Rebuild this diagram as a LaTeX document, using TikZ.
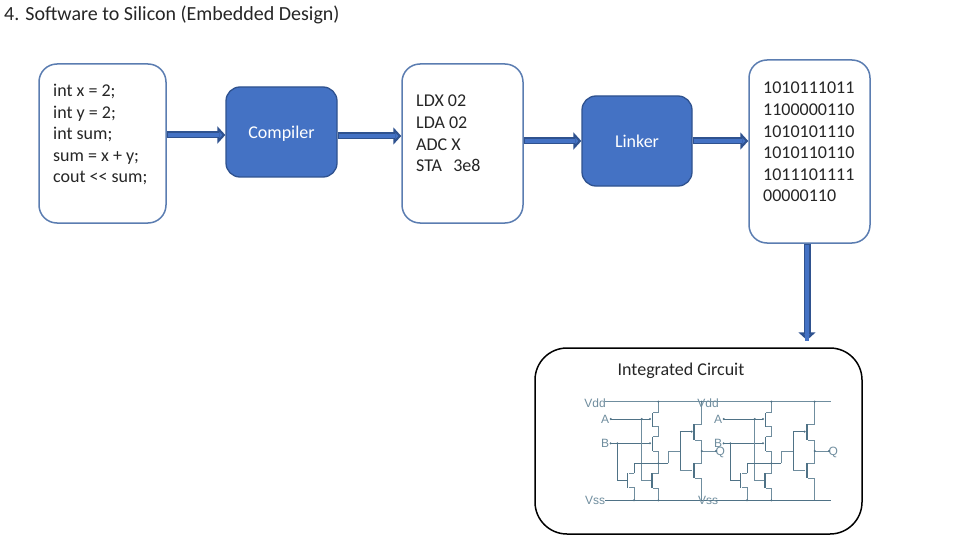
\documentclass[tikz,border=0pt]{standalone}
\usepackage{fontspec}
\setmainfont{Carlito}
\newfontfamily\circfont{Liberation Sans}
\usetikzlibrary{arrows.meta}
\definecolor{edgeblue}{HTML}{2F528F}
\definecolor{boxline}{HTML}{5B7DB1}
\definecolor{fillblue}{HTML}{4472C4}
\definecolor{wire}{HTML}{6F8D9E}
\definecolor{railc}{HTML}{4F7286}
\tikzset{
  whitebox/.style={draw=boxline,line width=1.5pt,fill=white,rounded corners=18pt,inner sep=0pt},
  bluebox/.style={draw=edgeblue,line width=1.3pt,fill=fillblue,rounded corners=14pt,inner sep=0pt,text=white,font=\fontsize{18}{21}\selectfont},
  icbox/.style={draw=black,line width=1.5pt,fill=white,rounded corners=32pt,inner sep=0pt},
  listing/.style={align=left,inner sep=0pt,anchor=north west,text=black!85,font=\fontsize{18}{21.6}\selectfont},
  bigarrow/.style={draw=edgeblue,line width=7pt,-{Triangle[length=8pt,width=17pt,fill=fillblue]},
     postaction={draw=fillblue,line width=4pt,-,shorten >=6pt,shorten <=1pt}},
  wireline/.style={draw=wire,line width=0.7pt},
  railline/.style={draw=railc,line width=0.9pt},
  bar/.style={draw=railc,line width=1.1pt},
  pindot/.style={circle,fill=railc,inner sep=0pt,minimum size=2.2pt},
  circlabel/.style={text=wire,inner sep=0pt,font=\circfont\fontsize{12}{12}\selectfont}
}
\begin{document}
\begin{tikzpicture}[x=1pt,y=-1pt]
\useasboundingbox (0,0) rectangle (960,540);
\fill[white] (0,0) rectangle (960,540);
\node[anchor=base west,inner sep=0pt,text=black!85,font=\fontsize{20}{24}\selectfont] (title) at (4,21) {4. Software to Silicon (Embedded Design)};

\node[whitebox,minimum width=127pt,minimum height=159pt] (src) at (102.5,143.5) {};
\node[bluebox,minimum width=111pt,minimum height=90pt,text height=15pt,text depth=2pt] (comp) at (281.5,132) {Compiler};
\node[whitebox,minimum width=121pt,minimum height=159pt] (asm) at (462.5,143.5) {};
\node[bluebox,minimum width=110pt,minimum height=90pt] (link) at (637,141) {Linker};
\node[whitebox,minimum width=121pt,minimum height=183pt] (bin) at (809.5,151.5) {};
\node[icbox,minimum width=327pt,minimum height=186pt] (ic) at (698.5,441) {};

\node[listing] (srctext) at (53,84) {int x = 2;\\int y = 2;\\int sum;\\sum = x + y;\\cout <{}< sum;};
\node[listing] (asmtext) at (416,95) {LDX 02\\LDA 02\\ADC X\\STA~~\,3e8};
\node[listing] (bintext) at (763,82) {1010111011\\1100000110\\1010101110\\1010110110\\1011101111\\00000110};
\node[anchor=base,inner sep=0pt,text=black!85,font=\fontsize{18}{21}\selectfont] (ictext) at (681,375) {Integrated Circuit};

\draw[bigarrow] (src.east |- 0,135) -- (comp.west |- 0,135);
\draw[bigarrow] (comp.east |- 0,136) -- (asm.west |- 0,136);
\draw[bigarrow] (asm.east |- 0,141) -- (link.west |- 0,141);
\draw[bigarrow] (link.east |- 0,141) -- (bin.west |- 0,141);
\draw[bigarrow,shorten >=7pt] (bin.south -| 807,0) -- (ic.north -| 807,0);

\foreach \dx in {570,683}{
\begin{scope}[shift={(\dx,385)},x=0.3333pt,y=-0.3333pt]
  \draw[wireline] (105,50) -- (444,50);
  \draw[railline] (105,346) -- (444,346);
  \node[circlabel] at (75,54) {Vdd};
  \node[circlabel] at (105,102) {A};
  \node[circlabel] at (105,175) {B};
  \node[circlabel] at (75,346) {Vss};
  \node[circlabel] at (451,202) {Q};
  % upper series pair
  \draw[railline] (122,102) -- (240,102);
  \draw[railline] (122,175) -- (240,175);
  \draw[wireline] (265,50) -- (265,82) -- (250,82);
  \draw[wireline] (250,125) -- (265,125) -- (265,153) -- (250,153);
  \draw[wireline] (250,198) -- (265,198) -- (265,265) -- (250,265);
  \draw[bar] (248,85) -- (248,125);
  \draw[bar] (248,155) -- (248,198);
  % lower parallel pair
  \draw[wireline] (215,102) -- (215,285) -- (243,285);
  \draw[bar] (246,265) -- (246,310);
  \draw[wireline] (250,310) -- (265,310) -- (265,346);
  \draw[railline] (142,175) -- (142,285) -- (170,285);
  \draw[bar] (173,265) -- (173,308);
  \draw[wireline] (178,265) -- (192,265);
  \draw[railline] (192,265) -- (192,235) -- (295,235);
  \draw[wireline] (178,308) -- (192,308) -- (192,346);
  \draw[wireline] (295,235) -- (295,198) -- (330,198);
  % output inverter
  \draw[railline] (330,140) -- (330,255);
  \draw[railline] (330,140) -- (365,140);
  \draw[wireline] (330,255) -- (365,255);
  \draw[bar] (372,118) -- (372,165);
  \draw[bar] (372,235) -- (372,280);
  \draw[wireline] (375,118) -- (395,118) -- (395,50);
  \draw[wireline] (375,165) -- (395,165) -- (395,235) -- (375,235);
  \draw[wireline] (375,280) -- (395,280) -- (395,346);
  \draw[wireline] (395,198) -- (438,198);
  \foreach \px/\py in {265/50,215/102,240/102,240/175,122/102,122/175,142/175,265/235,192/346,265/346,395/198,438/198,365/140,395/50}{
    \node[pindot] at (\px,\py) {};
  }
\end{scope}}
\end{tikzpicture}
\end{document}
